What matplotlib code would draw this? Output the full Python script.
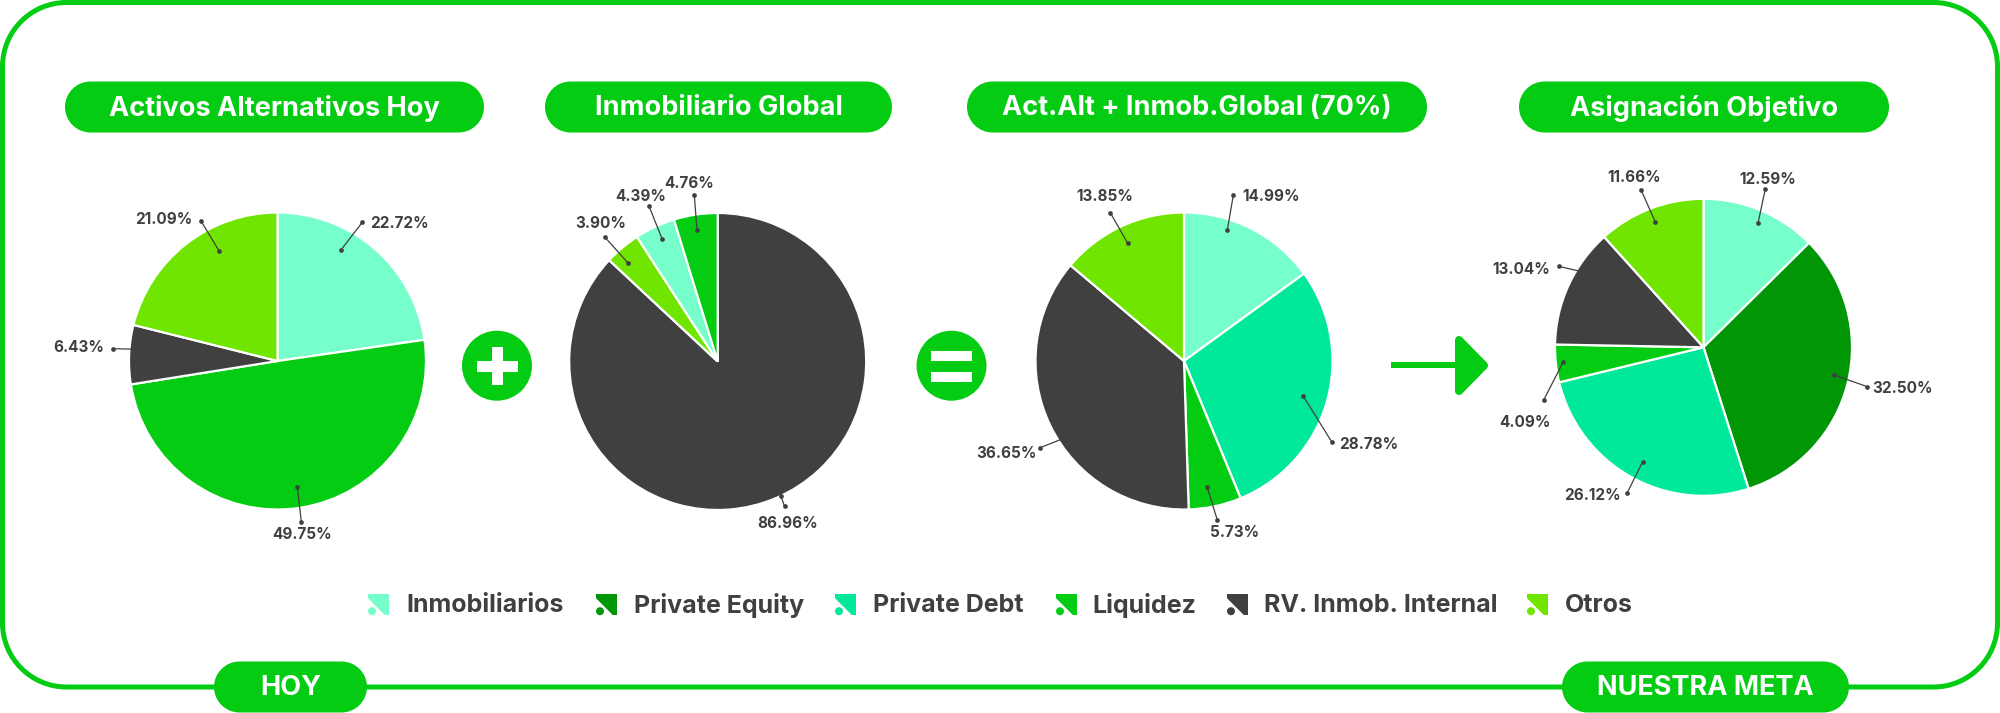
"""Alternative assets allocation: four pies from today's mix to the target."""

import matplotlib

matplotlib.use("Agg")

import matplotlib.pyplot as plt
from matplotlib.patches import Circle, PathPatch, Polygon, Rectangle
from matplotlib.path import Path

plt.rcParams["font.family"] = ["Inter", "DejaVu Sans"]

WIDTH, HEIGHT = 2000, 713

GREEN = "#03CC13"
DARK = "#404040"
INMOB = "#76FFCB"
EQUITY = "#009606"
DEBT = "#00E89A"
OTROS = "#70E500"

# categories and their colours
legend_names = ["Inmobiliarios", "Private Equity", "Private Debt", "Liquidez",
                "RV. Inmob. Internal", "Otros"]
legend_colors = [INMOB, EQUITY, DEBT, GREEN, DARK, OTROS]

# slices, clockwise from the top
hoy_values = [22.72, 49.75, 6.43, 21.09]
hoy_colors = [INMOB, GREEN, DARK, OTROS]

global_values = [86.96, 3.90, 4.39, 4.76]
global_colors = [DARK, OTROS, INMOB, GREEN]

mix_values = [14.99, 28.78, 5.73, 36.65, 13.85]
mix_colors = [INMOB, DEBT, GREEN, DARK, OTROS]

meta_values = [12.59, 32.50, 26.12, 4.09, 13.04, 11.66]
meta_colors = [INMOB, EQUITY, DEBT, GREEN, DARK, OTROS]

# leader line (inner x, y, outer x, y) and label centre, in image pixels
hoy_leaders = [
    (340.7, 250.3, 362.3, 222.3, 399, 222.3),
    (297.3, 486.7, 301.3, 521.7, 302.3, 533.3),
    (150, 349.5, 113.3, 348.7, 78.3, 346.3),
    (219.3, 251.3, 201, 221, 163.7, 217.7),
]
global_leaders = [
    (781, 496, 784.5, 506.4, 787.6, 521.7),
    (628.3, 263.3, 604.7, 237, 600.7, 221.7),
    (662, 238.7, 649, 206, 640.3, 194.7),
    (697, 230.3, 694.3, 195, 689.3, 182),
]
mix_leaders = [
    (1227.3, 230, 1233.3, 195.3, 1271.3, 195),
    (1303, 395.7, 1332, 442.3, 1368.7, 443),
    (1207, 486.7, 1217.3, 520, 1235, 531),
    (1080, 432, 1040, 447.7, 1006.3, 451.7),
    (1127.7, 243.3, 1110.3, 212.7, 1104.3, 195),
]
meta_leaders = [
    (1758, 223.3, 1765.3, 189, 1768, 177.7),
    (1834.3, 375, 1867.3, 386.7, 1902.3, 386.7),
    (1642.7, 461.7, 1627, 493.3, 1592, 494),
    (1563, 362.3, 1543.7, 400, 1524.7, 420.7),
    (1600, 276, 1558.7, 266.3, 1521, 268),
    (1655.3, 222, 1641, 189.7, 1633.7, 176),
]


def rounded_rect(x0, y0, x1, y1, r):
    """Rectangle path with true circular-looking corners (cubic, not quadratic)."""
    k = r * 0.4477
    verts = [
        (x0 + r, y0), (x1 - r, y0),
        (x1 - k, y0), (x1, y0 + k), (x1, y0 + r),
        (x1, y1 - r),
        (x1, y1 - k), (x1 - k, y1), (x1 - r, y1),
        (x0 + r, y1),
        (x0 + k, y1), (x0, y1 - k), (x0, y1 - r),
        (x0, y0 + r),
        (x0, y0 + k), (x0 + k, y0), (x0 + r, y0),
    ]
    codes = [Path.MOVETO, Path.LINETO,
             Path.CURVE4, Path.CURVE4, Path.CURVE4,
             Path.LINETO,
             Path.CURVE4, Path.CURVE4, Path.CURVE4,
             Path.LINETO,
             Path.CURVE4, Path.CURVE4, Path.CURVE4,
             Path.LINETO,
             Path.CURVE4, Path.CURVE4, Path.CURVE4]
    return Path(verts, codes)


def draw_pill(ax, x0, x1, y0, y1, text, zorder=3):
    ax.add_patch(PathPatch(rounded_rect(x0, y0, x1, y1, (y1 - y0) / 2),
                           facecolor=GREEN, edgecolor="none", zorder=zorder))
    ax.text((x0 + x1) / 2, (y0 + y1) / 2 + 1, text, color="white", fontsize=19.5,
            fontweight="bold", ha="center", va="center", zorder=zorder + 1)


def draw_pie(fig, overlay, cx, cy, values, colors, leaders):
    radius = 148.5
    ax = fig.add_axes([(cx - radius) / WIDTH, 1 - (cy + radius) / HEIGHT,
                       2 * radius / WIDTH, 2 * radius / HEIGHT])
    ax.pie(values, colors=colors, startangle=90, counterclock=False,
           wedgeprops={"edgecolor": "white", "linewidth": 1.6})
    ax.set_xlim(-1, 1)
    ax.set_ylim(-1, 1)

    for value, (x0, y0, x1, y1, tx, ty) in zip(values, leaders):
        overlay.plot([x0, x1], [y0, y1], color=DARK, linewidth=0.9, marker="o",
                     markersize=3.4, markeredgewidth=0, zorder=6)
        # Inter sits a little high in its box, nudge the label down
        overlay.text(tx, ty + 1.5, f"{value:.2f}%", color=DARK, fontsize=11,
                     fontweight="bold", ha="center", va="center", zorder=6)


def draw_legend_icon(ax, x, y, color):
    size = 21
    ax.add_patch(Polygon(
        [(x, y), (x + size, y), (x + size, y + size),
         (x + size * 0.8, y + size), (x, y + size * 0.2)],
        closed=True, facecolor=color, edgecolor="none",
    ))
    ax.add_patch(Circle((x + size * 0.19, y + size * 0.82), size * 0.19,
                        facecolor=color, edgecolor="none"))


def main():
    fig = plt.figure(figsize=(WIDTH / 100, HEIGHT / 100), dpi=100)
    fig.patch.set_facecolor("white")

    # Overlay in image pixels, kept above the pies for the leader lines.
    overlay = fig.add_axes([0, 0, 1, 1], zorder=5)
    overlay.set_xlim(0, WIDTH)
    overlay.set_ylim(HEIGHT, 0)
    overlay.axis("off")
    overlay.patch.set_alpha(0)

    overlay.add_patch(PathPatch(
        rounded_rect(2.5, 2.5, 1997.5, 687, 64),
        facecolor="none", edgecolor=GREEN, linewidth=3.6, zorder=1,
    ))

    draw_pill(overlay, 65, 484, 81.5, 132.5, "Activos Alternativos Hoy")
    draw_pill(overlay, 545, 892, 81.5, 132.5, "Inmobiliario Global")
    draw_pill(overlay, 967, 1427, 81.5, 132.5, "Act.Alt + Inmob.Global (70%)")
    draw_pill(overlay, 1519, 1889, 81.5, 132.5, "Asignación Objetivo")
    draw_pill(overlay, 214, 367, 661.5, 712.5, "HOY")
    draw_pill(overlay, 1562, 1849, 661.5, 712.5, "NUESTRA META")

    draw_pie(fig, overlay, 277.5, 361, hoy_values, hoy_colors, hoy_leaders)
    draw_pie(fig, overlay, 717.7, 361.5, global_values, global_colors, global_leaders)
    draw_pie(fig, overlay, 1184, 361, mix_values, mix_colors, mix_leaders)
    draw_pie(fig, overlay, 1703.5, 347.3, meta_values, meta_colors, meta_leaders)

    # plus sign
    overlay.add_patch(Circle((497, 365.7), 35, facecolor=GREEN, edgecolor="none"))
    overlay.add_patch(Rectangle((477.3, 361), 40.4, 10.7, facecolor="white", edgecolor="none", zorder=2))
    overlay.add_patch(Rectangle((491.7, 346.7), 11.2, 38.6, facecolor="white", edgecolor="none", zorder=2))

    # equals sign
    overlay.add_patch(Circle((951.5, 365.7), 35, facecolor=GREEN, edgecolor="none"))
    overlay.add_patch(Rectangle((930.7, 350.7), 41.6, 10.3, facecolor="white", edgecolor="none", zorder=2))
    overlay.add_patch(Rectangle((930.7, 371.7), 41.6, 10, facecolor="white", edgecolor="none", zorder=2))

    # arrow between the combined mix and the target
    overlay.add_patch(Rectangle((1391, 362.4), 68, 5.6, facecolor=GREEN, edgecolor="none"))
    overlay.add_patch(Polygon(
        [(1459, 340), (1484, 365.5), (1459, 391)], closed=True,
        facecolor=GREEN, edgecolor=GREEN, linewidth=5.8, joinstyle="round",
    ))

    icon_xs = [368, 596, 835, 1056, 1227, 1527]
    text_xs = [406, 634, 873, 1092, 1264, 1565]
    for name, color, icon_x, text_x in zip(legend_names, legend_colors, icon_xs, text_xs):
        draw_legend_icon(overlay, icon_x, 594, color)
        overlay.text(text_x, 605, name, color=DARK, fontsize=18,
                     fontweight="bold", ha="left", va="center")

    fig.savefig("out.png", dpi=100, facecolor="white")
    plt.close(fig)


if __name__ == "__main__":
    main()
